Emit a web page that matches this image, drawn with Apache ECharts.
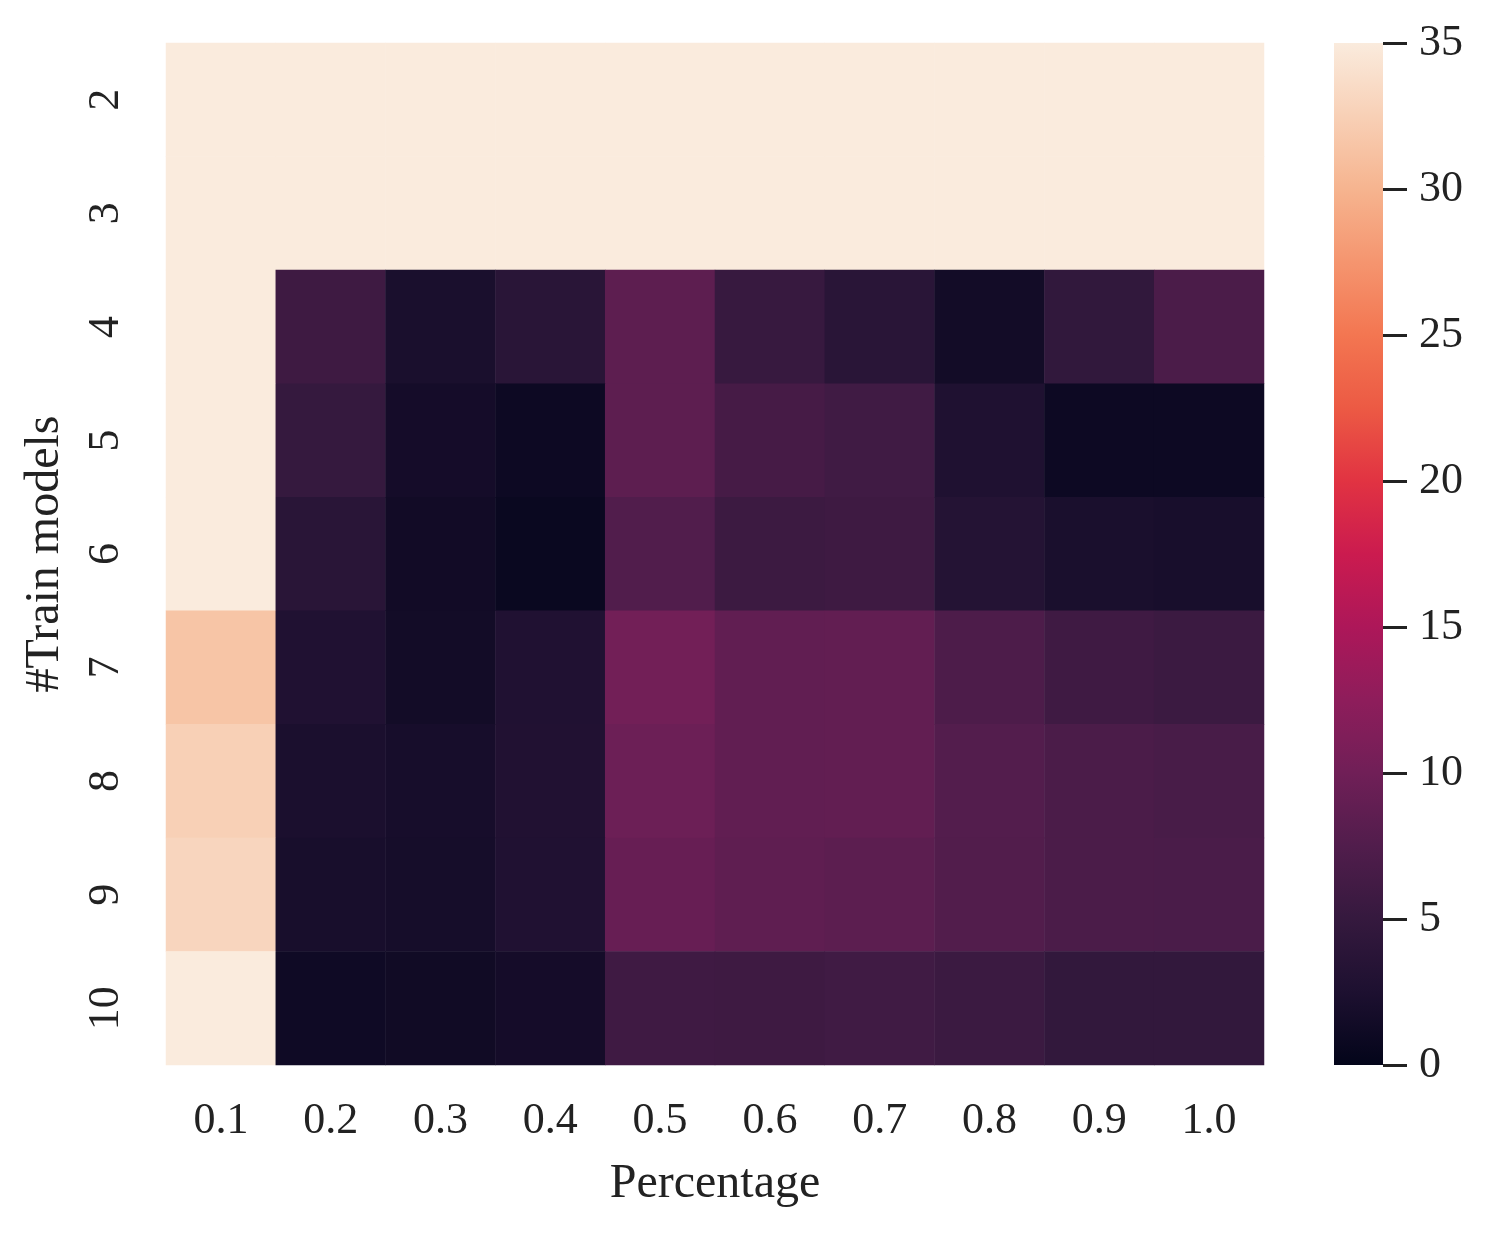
<!DOCTYPE html>
<html>
<head>
<meta charset="utf-8">
<script src="https://cdn.jsdelivr.net/npm/echarts@6/dist/echarts.min.js"></script>
<style>html,body{margin:0;padding:0;background:#fff;}#main{width:1495px;height:1233px;}</style>
</head>
<body>
<div id="main"></div>
<script>
const percentages = ['0.1','0.2','0.3','0.4','0.5','0.6','0.7','0.8','0.9','1.0'];
const trainModels = ['2','3','4','5','6','7','8','9','10'];
const row2  = [35, 35, 35, 35, 35, 35, 35, 35, 35, 35];
const row3  = [35, 35, 35, 35, 35, 35, 35, 35, 35, 35];
const row4  = [35, 5.8, 2.2, 3.8, 8.5, 5.2, 3.8, 1.5, 4.6, 7.0];
const row5  = [35, 5.0, 1.7, 1.0, 8.5, 6.5, 6.0, 2.7, 1.0, 1.0];
const row6  = [35, 3.8, 1.4, 0.7, 7.5, 5.6, 5.8, 3.2, 2.2, 2.0];
const row7  = [31.5, 2.8, 1.5, 2.8, 10.2, 8.8, 8.9, 7.1, 5.9, 5.5];
const row8  = [32.5, 2.3, 1.9, 2.9, 9.7, 8.8, 8.9, 7.7, 7.0, 6.7];
const row9  = [33.0, 2.0, 1.8, 2.8, 9.3, 8.6, 8.4, 7.6, 7.0, 6.9];
const row10 = [35, 1.2, 1.3, 1.7, 5.9, 5.8, 6.0, 5.5, 4.7, 4.7];
const rows = [row2, row3, row4, row5, row6, row7, row8, row9, row10];
const colorbarTicks = [0, 5, 10, 15, 20, 25, 30, 35];
const vmin = 0, vmax = 35;

const rocket = ['#03051a','#1d1030','#35193e','#511d4c','#701f57','#8e1d5b','#ad1759','#cb1b4f',
                '#e13342','#ec5a44','#f37651','#f5956f','#f6b48f','#f8d0b6','#faebdd'];

const heatData = [];
rows.forEach((r, yi) => r.forEach((v, xi) => heatData.push([xi, yi, v])));

const font = 'Liberation Serif, Times New Roman, serif';
const chart = echarts.init(document.getElementById('main'), null, {renderer: 'canvas'});
chart.setOption({
  backgroundColor: '#ffffff',
  animation: false,
  textStyle: {fontFamily: font},
  grid: [
    {left: 166, top: 43, width: 1098, height: 1022},
    {left: 1334, top: 43, width: 49, height: 1022}
  ],
  xAxis: [
    {type: 'category', gridIndex: 0, data: percentages, position: 'bottom',
     name: 'Percentage', nameLocation: 'middle', nameGap: 95,
     nameTextStyle: {fontFamily: font, fontSize: 48, color: '#222'},
     axisLine: {show: false}, axisTick: {show: false}, splitLine: {show: false},
     axisLabel: {fontFamily: font, fontSize: 44, color: '#222', margin: 34}},
    {type: 'category', gridIndex: 1, data: ['cb'], show: false}
  ],
  yAxis: [
    {type: 'category', gridIndex: 0, data: trainModels, inverse: true,
     name: '#Train models', nameLocation: 'middle', nameGap: 97, nameRotate: 90,
     nameTextStyle: {fontFamily: font, fontSize: 48, color: '#222'},
     axisLine: {show: false}, axisTick: {show: false}, splitLine: {show: false},
     axisLabel: {fontFamily: font, fontSize: 44, color: '#222', rotate: 90, margin: 38}},
    {type: 'value', gridIndex: 1, min: vmin, max: vmax, interval: 5, position: 'right',
     axisLine: {show: false}, splitLine: {show: false},
     axisTick: {show: true, length: 24, lineStyle: {color: '#222', width: 3}},
     axisLabel: {fontFamily: font, fontSize: 44, color: '#222', margin: 36,
       formatter: v => colorbarTicks.includes(v) ? String(v) : ''}}
  ],
  visualMap: {
    show: false, type: 'continuous', min: vmin, max: vmax, seriesIndex: 0, dimension: 2,
    inRange: {color: rocket}
  },
  series: [
    {type: 'heatmap', xAxisIndex: 0, yAxisIndex: 0, data: heatData,
     itemStyle: {borderWidth: 0}, emphasis: {disabled: true}},
    {type: 'custom', xAxisIndex: 1, yAxisIndex: 1, data: [[0, vmin, vmax]], silent: true,
     renderItem: function (params, api) {
       const p0 = api.coord([0, api.value(1)]);
       const p1 = api.coord([0, api.value(2)]);
       const w = api.size([1, 0])[0];
       const stops = rocket.map((c, i) => ({offset: i / (rocket.length - 1), color: c}));
       return {
         type: 'rect',
         shape: {x: p0[0] - w / 2, y: p1[1], width: w, height: p0[1] - p1[1]},
         style: {fill: {type: 'linear', x: 0, y: 1, x2: 0, y2: 0, colorStops: stops}}
       };
     }}
  ]
});
</script>
</body>
</html>
